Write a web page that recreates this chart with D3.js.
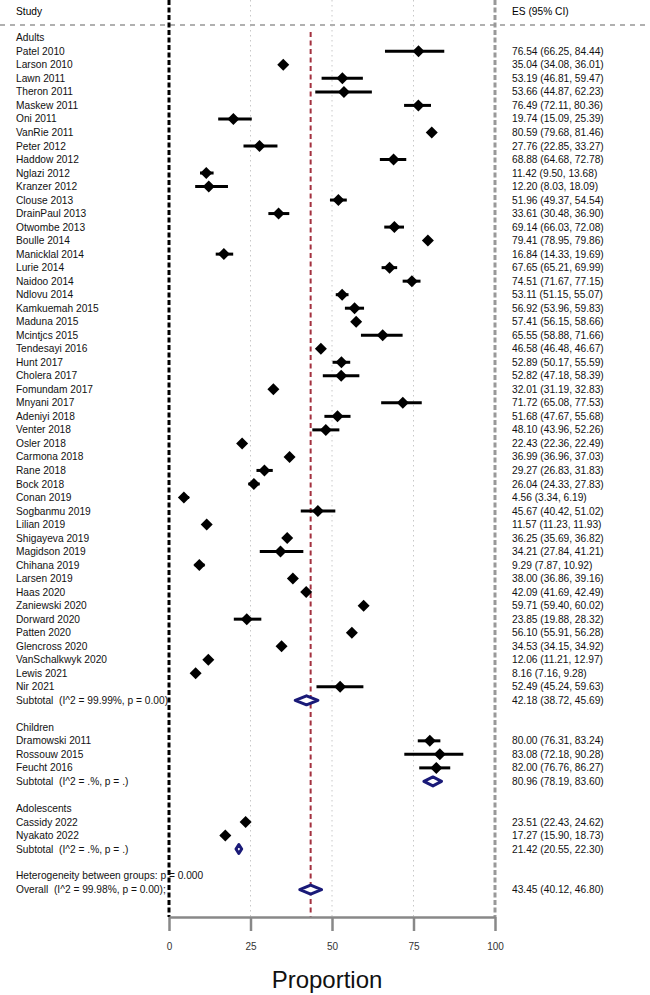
<!DOCTYPE html>
<html>
<head>
<meta charset="utf-8">
<script src="https://cdn.jsdelivr.net/npm/d3@7"></script>
<style>
  body { margin: 0; background: #fff; }
  text { font-family: "Liberation Sans", Arial, sans-serif; white-space: pre; }
</style>
</head>
<body>
<svg width="650" height="995"></svg>
<script>
// study data per group
var adultStudies = ["Patel 2010","Larson 2010","Lawn 2011","Theron 2011","Maskew 2011","Oni 2011","VanRie 2011","Peter 2012","Haddow 2012","Nglazi 2012","Kranzer 2012","Clouse 2013","DrainPaul 2013","Otwombe 2013","Boulle 2014","Manicklal 2014","Lurie 2014","Naidoo 2014","Ndlovu 2014","Kamkuemah 2015","Maduna 2015","Mcintjcs 2015","Tendesayi 2016","Hunt 2017","Cholera 2017","Fomundam 2017","Mnyani 2017","Adeniyi 2018","Venter 2018","Osler 2018","Carmona 2018","Rane 2018","Bock 2018","Conan 2019","Sogbanmu 2019","Lilian 2019","Shigayeva 2019","Magidson 2019","Chihana 2019","Larsen 2019","Haas 2020","Zaniewski 2020","Dorward 2020","Patten 2020","Glencross 2020","VanSchalkwyk 2020","Lewis 2021","Nir 2021"];
var adultES = [76.54,35.04,53.19,53.66,76.49,19.74,80.59,27.76,68.88,11.42,12.20,51.96,33.61,69.14,79.41,16.84,67.65,74.51,53.11,56.92,57.41,65.55,46.58,52.89,52.82,32.01,71.72,51.68,48.10,22.43,36.99,29.27,26.04,4.56,45.67,11.57,36.25,34.21,9.29,38.00,42.09,59.71,23.85,56.10,34.53,12.06,8.16,52.49];
var adultLo = [66.25,34.08,46.81,44.87,72.11,15.09,79.68,22.85,64.68,9.50,8.03,49.37,30.48,66.03,78.95,14.33,65.21,71.67,51.15,53.96,56.15,58.88,46.48,50.17,47.18,31.19,65.08,47.67,43.96,22.36,36.96,26.83,24.33,3.34,40.42,11.23,35.69,27.84,7.87,36.86,41.69,59.40,19.88,55.91,34.15,11.21,7.16,45.24];
var adultHi = [84.44,36.01,59.47,62.23,80.36,25.39,81.46,33.27,72.78,13.68,18.09,54.54,36.90,72.08,79.86,19.69,69.99,77.15,55.07,59.83,58.66,71.66,46.67,55.59,58.39,32.83,77.53,55.68,52.26,22.49,37.03,31.83,27.83,6.19,51.02,11.93,36.82,41.21,10.92,39.16,42.49,60.02,28.32,56.28,34.92,12.97,9.28,59.63];

var childStudies = ["Dramowski 2011","Rossouw 2015","Feucht 2016"];
var childES = [80.00,83.08,82.00];
var childLo = [76.31,72.18,76.76];
var childHi = [83.24,90.28,86.27];

var adolStudies = ["Cassidy 2022","Nyakato 2022"];
var adolES = [23.51,17.27];
var adolLo = [22.43,15.90];
var adolHi = [24.62,18.73];

var groupNames = ["Adults","Children","Adolescents"];
var subtotalLabels = ["Subtotal  (I^2 = 99.99%, p = 0.00)","Subtotal  (I^2 = .%, p = .)","Subtotal  (I^2 = .%, p = .)"];
var subtotalES = [42.18,80.96,21.42];
var subtotalLo = [38.72,78.19,20.55];
var subtotalHi = [45.69,83.60,22.30];

var overallLabel = "Overall  (I^2 = 99.98%, p = 0.00);";
var overallES = 43.45, overallLo = 40.12, overallHi = 46.80;
var heterogeneityLabel = "Heterogeneity between groups: p = 0.000";
var xTicks = [0,25,50,75,100];

var svg = d3.select("svg");
var x = d3.scaleLinear().domain([0,100]).range([169,495]);
var y = d3.scaleLinear().domain([0,65]).range([37.8,916.6]);
var axisY = 917;

var fmt = d3.format(".2f");
function esText(e,l,h) { return fmt(e) + " (" + fmt(l) + ", " + fmt(h) + ")"; }

// build rows
var groups = [
  {s: adultStudies, e: adultES, l: adultLo, h: adultHi},
  {s: childStudies, e: childES, l: childLo, h: childHi},
  {s: adolStudies, e: adolES, l: adolLo, h: adolHi}
];
var rows = [], row = 0;
groups.forEach(function(g, gi) {
  rows.push({type: "header", label: groupNames[gi], row: row++});
  g.s.forEach(function(name, i) {
    rows.push({type: "study", label: name, es: g.e[i], lo: g.l[i], hi: g.h[i], row: row++});
  });
  rows.push({type: "sub", label: subtotalLabels[gi], es: subtotalES[gi], lo: subtotalLo[gi], hi: subtotalHi[gi], row: row++});
  row++;
});
rows.push({type: "het", label: heterogeneityLabel, row: row++});
rows.push({type: "sub", label: overallLabel, es: overallES, lo: overallLo, hi: overallHi, row: row++});

// grid lines
svg.selectAll(".grid").data([25,50,75]).enter().append("line")
  .attr("x1", d => x(d)).attr("x2", d => x(d))
  .attr("y1", 0).attr("y2", axisY)
  .attr("stroke", "#c8c8c8").attr("stroke-width", 1)
  .attr("stroke-dasharray", "1.5,3.5");

// header separator
svg.append("line").attr("x1", 0).attr("x2", 650).attr("y1", 25).attr("y2", 25)
  .attr("stroke", "#b0b0b0").attr("stroke-width", 2).attr("stroke-dasharray", "5,5");

// null line and right border
svg.append("line").attr("x1", x(0)).attr("x2", x(0)).attr("y1", 0).attr("y2", axisY)
  .attr("stroke", "#000").attr("stroke-width", 3).attr("stroke-dasharray", "5,2.5");
svg.append("line").attr("x1", x(100)).attr("x2", x(100)).attr("y1", 0).attr("y2", axisY)
  .attr("stroke", "#999").attr("stroke-width", 3).attr("stroke-dasharray", "5,2.5");

// overall effect line
svg.append("line").attr("x1", x(overallES)).attr("x2", x(overallES)).attr("y1", 32).attr("y2", axisY)
  .attr("stroke", "#a3313f").attr("stroke-width", 2).attr("stroke-dasharray", "5,3.5");

// column headers
svg.append("text").attr("x", 16).attr("y", 11).attr("dy", "0.35em").attr("font-size", 10.2).text("Study");
svg.append("text").attr("x", 512).attr("y", 11).attr("dy", "0.35em").attr("font-size", 10.2).text("ES (95% CI)");

// labels
svg.selectAll(".lab").data(rows).enter().append("text")
  .attr("x", 16).attr("y", d => d.type === "het" ? y(d.row) - 1 : y(d.row)).attr("dy", "0.35em")
  .attr("font-size", 10.2).attr("fill", "#111").text(d => d.label);

svg.selectAll(".es").data(rows.filter(d => d.es != null)).enter().append("text")
  .attr("x", 512).attr("y", d => y(d.row)).attr("dy", "0.35em")
  .attr("font-size", 10.2).attr("fill", "#111").text(d => esText(d.es, d.lo, d.hi));

// study CIs and markers
var studies = rows.filter(d => d.type === "study");
svg.selectAll(".ci").data(studies).enter().append("line")
  .attr("x1", d => x(d.lo)).attr("x2", d => x(d.hi))
  .attr("y1", d => y(d.row)).attr("y2", d => y(d.row))
  .attr("stroke", "#000").attr("stroke-width", 3);
svg.selectAll(".pt").data(studies).enter().append("path")
  .attr("d", d => { var cx = x(d.es), cy = y(d.row), r = 6;
    return "M" + (cx - r) + "," + cy + "L" + cx + "," + (cy - r) + "L" + (cx + r) + "," + cy + "L" + cx + "," + (cy + r) + "Z"; })
  .attr("fill", "#000");

// pooled diamonds
svg.selectAll(".dia").data(rows.filter(d => d.type === "sub")).enter().append("path")
  .attr("d", d => { var cy = y(d.row), h = 4.5;
    return "M" + x(d.lo) + "," + cy + "L" + x(d.es) + "," + (cy - h) + "L" + x(d.hi) + "," + cy + "L" + x(d.es) + "," + (cy + h) + "Z"; })
  .attr("fill", "#fff").attr("stroke", "#1a1a78").attr("stroke-width", 3)
  .attr("stroke-linejoin", "round");

// axis
var axis = svg.append("g").attr("transform", "translate(0," + axisY + ")")
  .call(d3.axisBottom(x).tickValues(xTicks).tickSize(14).tickSizeOuter(0).tickPadding(12));
axis.select(".domain").attr("stroke", "#888").attr("stroke-width", 2.5);
axis.selectAll(".tick line").attr("stroke", "#888").attr("stroke-width", 2.5);
axis.selectAll(".tick text").attr("font-family", "Liberation Sans, Arial, sans-serif")
  .attr("font-size", 10).attr("fill", "#333");

svg.append("text").attr("x", 327).attr("y", 988).attr("text-anchor", "middle")
  .attr("font-size", 24).attr("fill", "#111").text("Proportion");
</script>
</body>
</html>
